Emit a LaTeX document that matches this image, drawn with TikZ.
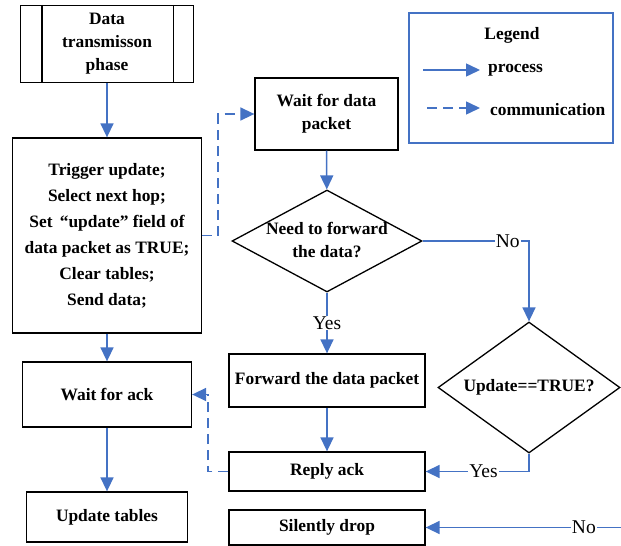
\documentclass[tikz,border=0pt]{standalone}
\usepackage{fontspec}
\setmainfont{Liberation Serif}
\usetikzlibrary{shapes.geometric,arrows.meta,calc}
\definecolor{flowblue}{HTML}{4472C4}
\begin{document}
\begin{tikzpicture}[x=1pt,y=-1pt,
  box/.style={draw=black,line width=1.3pt,inner sep=0pt,align=center,
    font=\bfseries\fontsize{17.4}{23}\selectfont},
  txt/.style={inner sep=0pt,align=center,font=\bfseries\fontsize{17.4}{23}\selectfont},
  dia/.style={draw=black,line width=1.3pt,diamond,inner sep=0pt},
  flow/.style={draw=flowblue,line width=1.5pt,-{Triangle[length=14pt,width=13pt]}},
  comm/.style={flow,dash pattern=on 10pt off 6pt},
  lbl/.style={fill=white,inner sep=1pt,font=\fontsize{19.5}{21}\selectfont}]
\useasboundingbox (0,0) rectangle (621,546);
% boxes
\node[box,minimum width=173pt,minimum height=77pt] (phase) at (107,44) {Data\\transmisson\\phase};
\draw[line width=1.3pt] ($(phase.north west)+(22,0)$) -- ($(phase.south west)+(22,0)$);
\draw[line width=1.3pt] ($(phase.north east)+(-21,0)$) -- ($(phase.south east)+(-21,0)$);
\node[box,minimum width=189pt,minimum height=195pt,font=\bfseries\fontsize{17.4}{26}\selectfont] (big) at (107,235.5)
  {Trigger update;\\Select next hop;\\Set \,“update” field of\\data packet as TRUE;\\Clear tables;\\Send data;};
\node[box,minimum width=169pt,minimum height=65pt] (waitack) at (107,394.5) {Wait for ack};
\node[box,minimum width=161pt,minimum height=50pt] (upd) at (107,517) {Update tables};
\node[box,minimum width=143pt,minimum height=72pt] (waitdata) at (326.5,114) {Wait for data\\packet};
\node[dia,minimum width=190pt,minimum height=102pt] (need) at (327,241) {};
\node[txt] (needtxt) at (327,240) {Need to forward\\the data?};
\node[box,minimum width=196pt,minimum height=53pt] (fwd) at (327,380.5) {Forward the data packet};
\node[box,minimum width=196pt,minimum height=39pt] (reply) at (327,471.5) {Reply ack};
\node[dia,minimum width=182pt,minimum height=131pt] (upd2) at (529,387.5) {};
\node[txt] (upd2txt) at (529,387.5) {Update==TRUE?};
\node[box,minimum width=196pt,minimum height=35pt] (drop) at (327,527.5) {Silently drop};
% legend
\node[draw=flowblue,line width=1.2pt,minimum width=204pt,minimum height=130pt,inner sep=0pt] (legend) at (511,78) {};
\node[txt] (legtitle) at (512,35) {Legend};
\coordinate (l1a) at (423,70);
\coordinate (l1b) at (480,70);
\coordinate (l2a) at (427,108);
\coordinate (l2b) at (480,108);
\draw[flow] (l1a) -- (l1b);
\draw[comm] (l2a) -- (l2b);
\node[txt,anchor=west] (lproc) at (488,70) {process};
\node[txt,anchor=west] (lcomm) at (490,110) {communication};
% connectors
\draw[flow] (phase) -- (big);
\draw[comm] (big.east) -- ++(16,0) |- (waitdata.west);
\draw[flow] (waitdata) -- (need);
\draw[flow] (need.east) -| node[lbl,pos=0.4] {No} (upd2.north);
\draw[flow] (need.south) -- node[lbl,pos=0.5] {Yes} (fwd.north);
\draw[flow] (fwd) -- (reply);
\draw[flow] (upd2.south) |- node[lbl,pos=0.72] {Yes} (reply.east);
\draw[comm,line width=1.6pt] (reply.west) -- ++(-20.5,0) |- (waitack.east);
\draw[flow] (big) -- (waitack);
\draw[flow] (waitack) -- (upd);
\coordinate (edge) at (621,527.5);
\draw[flow] (edge) -- node[lbl,pos=0.19] {No} (drop.east);
\end{tikzpicture}
\end{document}
